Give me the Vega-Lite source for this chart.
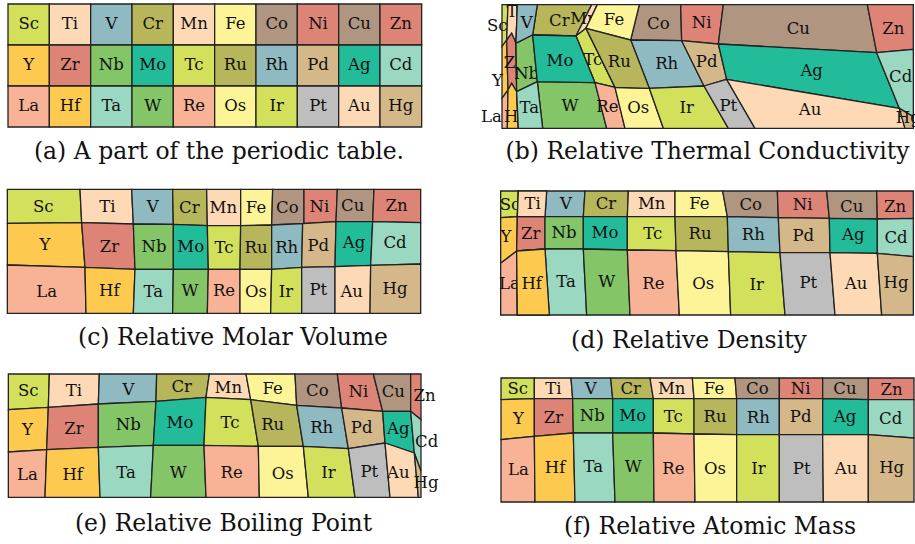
{
"$schema": "https://vega.github.io/schema/vega-lite/v6.json",
"background": "white",
"padding": 0,
"config": {"view": {"stroke": null}},
"bounds": "flush",
"align": "each",
"columns": 2,
"spacing": {"row": 50, "column": 40},
"datasets": {
"a": [
{"el":"Sc","lx":86,"ly":73.5,"g":{"type":"Polygon","coordinates":[[[24,12],[148,12],[148,135],[24,135],[24,12]]]}},
{"el":"Ti","lx":210,"ly":73.5,"g":{"type":"Polygon","coordinates":[[[148,12],[272,12],[272,135],[148,135],[148,12]]]}},
{"el":"V","lx":334,"ly":73.5,"g":{"type":"Polygon","coordinates":[[[272,12],[396,12],[396,135],[272,135],[272,12]]]}},
{"el":"Cr","lx":458,"ly":73.5,"g":{"type":"Polygon","coordinates":[[[396,12],[520,12],[520,135],[396,135],[396,12]]]}},
{"el":"Mn","lx":582,"ly":73.5,"g":{"type":"Polygon","coordinates":[[[520,12],[644,12],[644,135],[520,135],[520,12]]]}},
{"el":"Fe","lx":706,"ly":73.5,"g":{"type":"Polygon","coordinates":[[[644,12],[768,12],[768,135],[644,135],[644,12]]]}},
{"el":"Co","lx":830,"ly":73.5,"g":{"type":"Polygon","coordinates":[[[768,12],[892,12],[892,135],[768,135],[768,12]]]}},
{"el":"Ni","lx":954,"ly":73.5,"g":{"type":"Polygon","coordinates":[[[892,12],[1016,12],[1016,135],[892,135],[892,12]]]}},
{"el":"Cu","lx":1078,"ly":73.5,"g":{"type":"Polygon","coordinates":[[[1016,12],[1140,12],[1140,135],[1016,135],[1016,12]]]}},
{"el":"Zn","lx":1202.5,"ly":73.5,"g":{"type":"Polygon","coordinates":[[[1140,12],[1265,12],[1265,135],[1140,135],[1140,12]]]}},
{"el":"Y","lx":86,"ly":196.5,"g":{"type":"Polygon","coordinates":[[[24,135],[148,135],[148,258],[24,258],[24,135]]]}},
{"el":"Zr","lx":210,"ly":196.5,"g":{"type":"Polygon","coordinates":[[[148,135],[272,135],[272,258],[148,258],[148,135]]]}},
{"el":"Nb","lx":334,"ly":196.5,"g":{"type":"Polygon","coordinates":[[[272,135],[396,135],[396,258],[272,258],[272,135]]]}},
{"el":"Mo","lx":458,"ly":196.5,"g":{"type":"Polygon","coordinates":[[[396,135],[520,135],[520,258],[396,258],[396,135]]]}},
{"el":"Tc","lx":582,"ly":196.5,"g":{"type":"Polygon","coordinates":[[[520,135],[644,135],[644,258],[520,258],[520,135]]]}},
{"el":"Ru","lx":706,"ly":196.5,"g":{"type":"Polygon","coordinates":[[[644,135],[768,135],[768,258],[644,258],[644,135]]]}},
{"el":"Rh","lx":830,"ly":196.5,"g":{"type":"Polygon","coordinates":[[[768,135],[892,135],[892,258],[768,258],[768,135]]]}},
{"el":"Pd","lx":954,"ly":196.5,"g":{"type":"Polygon","coordinates":[[[892,135],[1016,135],[1016,258],[892,258],[892,135]]]}},
{"el":"Ag","lx":1078,"ly":196.5,"g":{"type":"Polygon","coordinates":[[[1016,135],[1140,135],[1140,258],[1016,258],[1016,135]]]}},
{"el":"Cd","lx":1202.5,"ly":196.5,"g":{"type":"Polygon","coordinates":[[[1140,135],[1265,135],[1265,258],[1140,258],[1140,135]]]}},
{"el":"La","lx":86,"ly":319.5,"g":{"type":"Polygon","coordinates":[[[24,258],[148,258],[148,381],[24,381],[24,258]]]}},
{"el":"Hf","lx":210,"ly":319.5,"g":{"type":"Polygon","coordinates":[[[148,258],[272,258],[272,381],[148,381],[148,258]]]}},
{"el":"Ta","lx":334,"ly":319.5,"g":{"type":"Polygon","coordinates":[[[272,258],[396,258],[396,381],[272,381],[272,258]]]}},
{"el":"W","lx":458,"ly":319.5,"g":{"type":"Polygon","coordinates":[[[396,258],[520,258],[520,381],[396,381],[396,258]]]}},
{"el":"Re","lx":582,"ly":319.5,"g":{"type":"Polygon","coordinates":[[[520,258],[644,258],[644,381],[520,381],[520,258]]]}},
{"el":"Os","lx":706,"ly":319.5,"g":{"type":"Polygon","coordinates":[[[644,258],[768,258],[768,381],[644,381],[644,258]]]}},
{"el":"Ir","lx":830,"ly":319.5,"g":{"type":"Polygon","coordinates":[[[768,258],[892,258],[892,381],[768,381],[768,258]]]}},
{"el":"Pt","lx":954,"ly":319.5,"g":{"type":"Polygon","coordinates":[[[892,258],[1016,258],[1016,381],[892,381],[892,258]]]}},
{"el":"Au","lx":1078,"ly":319.5,"g":{"type":"Polygon","coordinates":[[[1016,258],[1140,258],[1140,381],[1016,381],[1016,258]]]}},
{"el":"Hg","lx":1202.5,"ly":319.5,"g":{"type":"Polygon","coordinates":[[[1140,258],[1265,258],[1265,381],[1140,381],[1140,258]]]}}
],
"b": [
{"el":"Sc","lx":52,"ly":77,"g":{"type":"Polygon","coordinates":[[[66,14],[84,14],[80,120],[66,140],[66,14]]]}},
{"el":"Ti","lx":104,"ly":36,"g":{"type":"Polygon","coordinates":[[[84,14],[112,14],[108,130],[95,100],[80,120],[84,14]]]}},
{"el":"V","lx":140,"ly":68,"g":{"type":"Polygon","coordinates":[[[112,14],[172,14],[158,105],[108,130],[112,14]]]}},
{"el":"Cr","lx":238,"ly":62,"g":{"type":"Polygon","coordinates":[[[172,14],[335,14],[288,108],[158,105],[172,14]]]}},
{"el":"Mn","lx":312,"ly":58,"g":{"type":"Polygon","coordinates":[[[335,14],[352,14],[318,85],[288,108],[335,14]]]}},
{"el":"Fe","lx":402,"ly":60,"g":{"type":"Polygon","coordinates":[[[352,14],[478,14],[452,120],[318,85],[352,14]]]}},
{"el":"Co","lx":535,"ly":72,"g":{"type":"Polygon","coordinates":[[[478,14],[602,14],[605,122],[452,120],[478,14]]]}},
{"el":"Ni","lx":665,"ly":70,"g":{"type":"Polygon","coordinates":[[[602,14],[730,14],[715,132],[605,122],[602,14]]]}},
{"el":"Cu","lx":955,"ly":88,"g":{"type":"Polygon","coordinates":[[[730,14],[1162,14],[1190,158],[715,132],[730,14]]]}},
{"el":"Zn","lx":1240,"ly":88,"g":{"type":"Polygon","coordinates":[[[1162,14],[1300,14],[1300,148],[1190,158],[1162,14]]]}},
{"el":"Y","lx":52,"ly":242,"g":{"type":"Polygon","coordinates":[[[66,140],[80,120],[84,270],[66,295],[66,140]]]}},
{"el":"Zr","lx":100,"ly":190,"g":{"type":"Polygon","coordinates":[[[80,120],[95,100],[108,130],[110,275],[95,250],[84,270],[80,120]]]}},
{"el":"Nb","lx":140,"ly":222,"g":{"type":"Polygon","coordinates":[[[108,130],[158,105],[172,245],[110,275],[108,130]]]}},
{"el":"Mo","lx":240,"ly":182,"g":{"type":"Polygon","coordinates":[[[158,105],[288,108],[345,248],[172,245],[158,105]]]}},
{"el":"Tc","lx":338,"ly":180,"g":{"type":"Polygon","coordinates":[[[288,108],[318,85],[405,262],[345,248],[288,108]]]}},
{"el":"Ru","lx":418,"ly":185,"g":{"type":"Polygon","coordinates":[[[318,85],[452,120],[508,265],[405,262],[318,85]]]}},
{"el":"Rh","lx":560,"ly":192,"g":{"type":"Polygon","coordinates":[[[452,120],[605,122],[672,258],[508,265],[452,120]]]}},
{"el":"Pd","lx":680,"ly":185,"g":{"type":"Polygon","coordinates":[[[605,122],[715,132],[740,238],[672,258],[605,122]]]}},
{"el":"Ag","lx":995,"ly":212,"g":{"type":"Polygon","coordinates":[[[715,132],[1190,158],[1258,325],[740,238],[715,132]]]}},
{"el":"Cd","lx":1262,"ly":232,"g":{"type":"Polygon","coordinates":[[[1190,158],[1300,148],[1300,350],[1258,325],[1190,158]]]}},
{"el":"La","lx":34,"ly":352,"g":{"type":"Polygon","coordinates":[[[66,295],[84,270],[82,385],[66,385],[66,295]]]}},
{"el":"Hf","lx":103,"ly":352,"g":{"type":"Polygon","coordinates":[[[84,270],[95,250],[110,275],[115,385],[82,385],[84,270]]]}},
{"el":"Ta","lx":148,"ly":325,"g":{"type":"Polygon","coordinates":[[[110,275],[172,245],[188,385],[115,385],[110,275]]]}},
{"el":"W","lx":270,"ly":318,"g":{"type":"Polygon","coordinates":[[[172,245],[345,248],[380,385],[188,385],[172,245]]]}},
{"el":"Re","lx":382,"ly":320,"g":{"type":"Polygon","coordinates":[[[345,248],[405,262],[435,385],[380,385],[345,248]]]}},
{"el":"Os","lx":475,"ly":325,"g":{"type":"Polygon","coordinates":[[[405,262],[508,265],[550,385],[435,385],[405,262]]]}},
{"el":"Ir","lx":620,"ly":325,"g":{"type":"Polygon","coordinates":[[[508,265],[672,258],[745,385],[550,385],[508,265]]]}},
{"el":"Pt","lx":745,"ly":318,"g":{"type":"Polygon","coordinates":[[[672,258],[740,238],[825,385],[745,385],[672,258]]]}},
{"el":"Au","lx":990,"ly":330,"g":{"type":"Polygon","coordinates":[[[740,238],[1258,325],[1275,385],[825,385],[740,238]]]}},
{"el":"Hg","lx":1285,"ly":355,"g":{"type":"Polygon","coordinates":[[[1258,325],[1300,350],[1300,385],[1275,385],[1258,325]]]}}
],
"c": [
{"el":"Sc","lx":130,"ly":80,"g":{"type":"Polygon","coordinates":[[[22,28],[240,28],[245,128],[22,130],[22,28]]]}},
{"el":"Ti","lx":322,"ly":80,"g":{"type":"Polygon","coordinates":[[[240,28],[395,28],[400,132],[245,128],[240,28]]]}},
{"el":"V","lx":458,"ly":80,"g":{"type":"Polygon","coordinates":[[[395,28],[518,28],[520,133],[400,132],[395,28]]]}},
{"el":"Cr","lx":568,"ly":85,"g":{"type":"Polygon","coordinates":[[[518,28],[620,28],[622,137],[520,133],[518,28]]]}},
{"el":"Mn","lx":670,"ly":85,"g":{"type":"Polygon","coordinates":[[[620,28],[722,28],[722,137],[622,137],[620,28]]]}},
{"el":"Fe","lx":768,"ly":85,"g":{"type":"Polygon","coordinates":[[[722,28],[818,28],[815,135],[722,137],[722,28]]]}},
{"el":"Co","lx":862,"ly":85,"g":{"type":"Polygon","coordinates":[[[818,28],[912,28],[912,130],[815,135],[818,28]]]}},
{"el":"Ni","lx":958,"ly":80,"g":{"type":"Polygon","coordinates":[[[912,28],[1012,28],[1008,125],[912,130],[912,28]]]}},
{"el":"Cu","lx":1058,"ly":78,"g":{"type":"Polygon","coordinates":[[[1012,28],[1122,28],[1118,125],[1008,125],[1012,28]]]}},
{"el":"Zn","lx":1190,"ly":78,"g":{"type":"Polygon","coordinates":[[[1122,28],[1262,28],[1262,128],[1118,125],[1122,28]]]}},
{"el":"Y","lx":135,"ly":195,"g":{"type":"Polygon","coordinates":[[[22,130],[245,128],[255,262],[22,255],[22,130]]]}},
{"el":"Zr","lx":328,"ly":200,"g":{"type":"Polygon","coordinates":[[[245,128],[400,132],[405,268],[255,262],[245,128]]]}},
{"el":"Nb","lx":462,"ly":200,"g":{"type":"Polygon","coordinates":[[[400,132],[520,133],[520,268],[405,268],[400,132]]]}},
{"el":"Mo","lx":572,"ly":200,"g":{"type":"Polygon","coordinates":[[[520,133],[622,137],[625,268],[520,268],[520,133]]]}},
{"el":"Tc","lx":672,"ly":205,"g":{"type":"Polygon","coordinates":[[[622,137],[722,137],[720,268],[625,268],[622,137]]]}},
{"el":"Ru","lx":768,"ly":205,"g":{"type":"Polygon","coordinates":[[[722,137],[815,135],[815,268],[720,268],[722,137]]]}},
{"el":"Rh","lx":860,"ly":203,"g":{"type":"Polygon","coordinates":[[[815,135],[908,131],[905,262],[815,268],[815,135]]]}},
{"el":"Pd","lx":955,"ly":198,"g":{"type":"Polygon","coordinates":[[[908,131],[1008,125],[1005,260],[905,262],[908,131]]]}},
{"el":"Ag","lx":1062,"ly":190,"g":{"type":"Polygon","coordinates":[[[1008,125],[1118,125],[1112,256],[1005,260],[1008,125]]]}},
{"el":"Cd","lx":1185,"ly":190,"g":{"type":"Polygon","coordinates":[[[1118,125],[1262,128],[1262,252],[1112,256],[1118,125]]]}},
{"el":"La","lx":140,"ly":335,"g":{"type":"Polygon","coordinates":[[[22,255],[255,262],[258,400],[22,400],[22,255]]]}},
{"el":"Hf","lx":328,"ly":332,"g":{"type":"Polygon","coordinates":[[[255,262],[405,268],[400,400],[258,400],[255,262]]]}},
{"el":"Ta","lx":460,"ly":335,"g":{"type":"Polygon","coordinates":[[[405,268],[520,268],[518,400],[400,400],[405,268]]]}},
{"el":"W","lx":570,"ly":332,"g":{"type":"Polygon","coordinates":[[[520,268],[625,268],[622,400],[518,400],[520,268]]]}},
{"el":"Re","lx":672,"ly":332,"g":{"type":"Polygon","coordinates":[[[625,268],[720,268],[720,400],[622,400],[625,268]]]}},
{"el":"Os","lx":768,"ly":335,"g":{"type":"Polygon","coordinates":[[[720,268],[815,268],[812,400],[720,400],[720,268]]]}},
{"el":"Ir","lx":858,"ly":335,"g":{"type":"Polygon","coordinates":[[[815,268],[905,262],[905,400],[812,400],[815,268]]]}},
{"el":"Pt","lx":955,"ly":330,"g":{"type":"Polygon","coordinates":[[[905,262],[1005,260],[1005,400],[905,400],[905,262]]]}},
{"el":"Au","lx":1055,"ly":335,"g":{"type":"Polygon","coordinates":[[[1005,260],[1112,256],[1110,400],[1005,400],[1005,260]]]}},
{"el":"Hg","lx":1185,"ly":328,"g":{"type":"Polygon","coordinates":[[[1112,256],[1262,252],[1262,400],[1110,400],[1112,256]]]}}
],
"d": [
{"el":"Sc","lx":90,"ly":75,"g":{"type":"Polygon","coordinates":[[[62,33],[115,33],[112,110],[62,113],[62,33]]]}},
{"el":"Ti","lx":158,"ly":73,"g":{"type":"Polygon","coordinates":[[[115,33],[200,33],[195,110],[112,110],[115,33]]]}},
{"el":"V","lx":258,"ly":73,"g":{"type":"Polygon","coordinates":[[[200,33],[315,33],[310,110],[195,110],[200,33]]]}},
{"el":"Cr","lx":378,"ly":73,"g":{"type":"Polygon","coordinates":[[[315,33],[445,33],[442,110],[310,110],[315,33]]]}},
{"el":"Mn","lx":515,"ly":73,"g":{"type":"Polygon","coordinates":[[[445,33],[585,33],[585,110],[442,110],[445,33]]]}},
{"el":"Fe","lx":658,"ly":73,"g":{"type":"Polygon","coordinates":[[[585,33],[728,33],[742,110],[585,110],[585,33]]]}},
{"el":"Co","lx":812,"ly":75,"g":{"type":"Polygon","coordinates":[[[728,33],[892,33],[895,113],[742,110],[728,33]]]}},
{"el":"Ni","lx":968,"ly":75,"g":{"type":"Polygon","coordinates":[[[892,33],[1040,33],[1048,115],[895,113],[892,33]]]}},
{"el":"Cu","lx":1115,"ly":80,"g":{"type":"Polygon","coordinates":[[[1040,33],[1190,33],[1192,117],[1048,115],[1040,33]]]}},
{"el":"Zn","lx":1245,"ly":80,"g":{"type":"Polygon","coordinates":[[[1190,33],[1300,33],[1300,115],[1192,117],[1190,33]]]}},
{"el":"Y","lx":78,"ly":170,"g":{"type":"Polygon","coordinates":[[[62,113],[112,110],[110,213],[62,250],[62,113]]]}},
{"el":"Zr","lx":152,"ly":163,"g":{"type":"Polygon","coordinates":[[[112,110],[195,110],[195,207],[110,213],[112,110]]]}},
{"el":"Nb","lx":252,"ly":160,"g":{"type":"Polygon","coordinates":[[[195,110],[310,110],[310,207],[195,207],[195,110]]]}},
{"el":"Mo","lx":375,"ly":160,"g":{"type":"Polygon","coordinates":[[[310,110],[442,110],[442,210],[310,207],[310,110]]]}},
{"el":"Tc","lx":518,"ly":163,"g":{"type":"Polygon","coordinates":[[[442,110],[585,110],[588,212],[442,210],[442,110]]]}},
{"el":"Ru","lx":660,"ly":163,"g":{"type":"Polygon","coordinates":[[[585,110],[742,110],[745,215],[588,212],[585,110]]]}},
{"el":"Rh","lx":820,"ly":165,"g":{"type":"Polygon","coordinates":[[[742,110],[895,113],[900,218],[745,215],[742,110]]]}},
{"el":"Pd","lx":970,"ly":167,"g":{"type":"Polygon","coordinates":[[[895,113],[1048,115],[1050,218],[900,218],[895,113]]]}},
{"el":"Ag","lx":1120,"ly":165,"g":{"type":"Polygon","coordinates":[[[1048,115],[1192,117],[1192,220],[1050,218],[1048,115]]]}},
{"el":"Cd","lx":1248,"ly":173,"g":{"type":"Polygon","coordinates":[[[1192,117],[1300,115],[1300,230],[1192,220],[1192,117]]]}},
{"el":"La","lx":88,"ly":313,"g":{"type":"Polygon","coordinates":[[[62,250],[110,213],[112,405],[62,405],[62,250]]]}},
{"el":"Hf","lx":155,"ly":311,"g":{"type":"Polygon","coordinates":[[[110,213],[195,207],[208,405],[112,405],[110,213]]]}},
{"el":"Ta","lx":258,"ly":307,"g":{"type":"Polygon","coordinates":[[[195,207],[310,207],[320,405],[208,405],[195,207]]]}},
{"el":"W","lx":380,"ly":307,"g":{"type":"Polygon","coordinates":[[[310,207],[442,210],[450,405],[320,405],[310,207]]]}},
{"el":"Re","lx":520,"ly":313,"g":{"type":"Polygon","coordinates":[[[442,210],[588,212],[598,405],[450,405],[442,210]]]}},
{"el":"Os","lx":670,"ly":313,"g":{"type":"Polygon","coordinates":[[[588,212],[745,215],[752,405],[598,405],[588,212]]]}},
{"el":"Ir","lx":830,"ly":315,"g":{"type":"Polygon","coordinates":[[[745,215],[900,218],[915,405],[752,405],[745,215]]]}},
{"el":"Pt","lx":985,"ly":310,"g":{"type":"Polygon","coordinates":[[[900,218],[1050,218],[1065,405],[915,405],[900,218]]]}},
{"el":"Au","lx":1128,"ly":313,"g":{"type":"Polygon","coordinates":[[[1050,218],[1192,220],[1205,405],[1065,405],[1050,218]]]}},
{"el":"Hg","lx":1248,"ly":310,"g":{"type":"Polygon","coordinates":[[[1192,220],[1300,230],[1300,405],[1205,405],[1192,220]]]}}
],
"e": [
{"el":"Sc","lx":85,"ly":70,"g":{"type":"Polygon","coordinates":[[[25,18],[148,18],[145,118],[25,125],[25,18]]]}},
{"el":"Ti","lx":222,"ly":68,"g":{"type":"Polygon","coordinates":[[[148,18],[298,18],[295,108],[145,118],[148,18]]]}},
{"el":"V","lx":385,"ly":65,"g":{"type":"Polygon","coordinates":[[[298,18],[470,18],[468,100],[295,108],[298,18]]]}},
{"el":"Cr","lx":545,"ly":58,"g":{"type":"Polygon","coordinates":[[[470,18],[628,18],[618,88],[468,100],[470,18]]]}},
{"el":"Mn","lx":685,"ly":60,"g":{"type":"Polygon","coordinates":[[[628,18],[738,18],[752,95],[618,88],[628,18]]]}},
{"el":"Fe","lx":818,"ly":62,"g":{"type":"Polygon","coordinates":[[[738,18],[885,18],[890,112],[752,95],[738,18]]]}},
{"el":"Co","lx":952,"ly":70,"g":{"type":"Polygon","coordinates":[[[885,18],[1012,18],[1025,120],[890,112],[885,18]]]}},
{"el":"Ni","lx":1075,"ly":72,"g":{"type":"Polygon","coordinates":[[[1012,18],[1120,18],[1148,130],[1025,120],[1012,18]]]}},
{"el":"Cu","lx":1180,"ly":72,"g":{"type":"Polygon","coordinates":[[[1120,18],[1232,18],[1232,130],[1148,130],[1120,18]]]}},
{"el":"Zn","lx":1274,"ly":85,"g":{"type":"Polygon","coordinates":[[[1232,18],[1263,18],[1263,155],[1232,130],[1232,18]]]}},
{"el":"Y","lx":82,"ly":185,"g":{"type":"Polygon","coordinates":[[[25,125],[145,118],[140,245],[25,252],[25,125]]]}},
{"el":"Zr","lx":222,"ly":182,"g":{"type":"Polygon","coordinates":[[[145,118],[295,108],[295,238],[140,245],[145,118]]]}},
{"el":"Nb","lx":385,"ly":172,"g":{"type":"Polygon","coordinates":[[[295,108],[468,100],[460,232],[295,238],[295,108]]]}},
{"el":"Mo","lx":540,"ly":165,"g":{"type":"Polygon","coordinates":[[[468,100],[618,88],[612,232],[460,232],[468,100]]]}},
{"el":"Tc","lx":690,"ly":165,"g":{"type":"Polygon","coordinates":[[[618,88],[752,95],[775,235],[612,232],[618,88]]]}},
{"el":"Ru","lx":818,"ly":172,"g":{"type":"Polygon","coordinates":[[[752,95],[890,112],[910,235],[775,235],[752,95]]]}},
{"el":"Rh","lx":965,"ly":180,"g":{"type":"Polygon","coordinates":[[[890,112],[1025,120],[1045,242],[910,235],[890,112]]]}},
{"el":"Pd","lx":1085,"ly":180,"g":{"type":"Polygon","coordinates":[[[1025,120],[1148,130],[1155,225],[1045,242],[1025,120]]]}},
{"el":"Ag","lx":1195,"ly":183,"g":{"type":"Polygon","coordinates":[[[1148,130],[1232,130],[1243,255],[1155,225],[1148,130]]]}},
{"el":"Cd","lx":1280,"ly":222,"g":{"type":"Polygon","coordinates":[[[1232,130],[1263,155],[1263,310],[1243,255],[1232,130]]]}},
{"el":"La","lx":82,"ly":322,"g":{"type":"Polygon","coordinates":[[[25,252],[140,245],[135,388],[25,388],[25,252]]]}},
{"el":"Hf","lx":218,"ly":320,"g":{"type":"Polygon","coordinates":[[[140,245],[295,238],[300,388],[135,388],[140,245]]]}},
{"el":"Ta","lx":378,"ly":315,"g":{"type":"Polygon","coordinates":[[[295,238],[460,232],[452,388],[300,388],[295,238]]]}},
{"el":"W","lx":535,"ly":315,"g":{"type":"Polygon","coordinates":[[[460,232],[612,232],[618,388],[452,388],[460,232]]]}},
{"el":"Re","lx":695,"ly":315,"g":{"type":"Polygon","coordinates":[[[612,232],[775,235],[778,388],[618,388],[612,232]]]}},
{"el":"Os","lx":848,"ly":318,"g":{"type":"Polygon","coordinates":[[[775,235],[910,235],[925,388],[778,388],[775,235]]]}},
{"el":"Ir","lx":985,"ly":315,"g":{"type":"Polygon","coordinates":[[[910,235],[1045,242],[1065,388],[925,388],[910,235]]]}},
{"el":"Pt","lx":1108,"ly":312,"g":{"type":"Polygon","coordinates":[[[1045,242],[1155,225],[1170,388],[1065,388],[1045,242]]]}},
{"el":"Au","lx":1195,"ly":315,"g":{"type":"Polygon","coordinates":[[[1155,225],[1243,255],[1255,388],[1170,388],[1155,225]]]}},
{"el":"Hg","lx":1278,"ly":345,"g":{"type":"Polygon","coordinates":[[[1243,255],[1263,310],[1263,388],[1255,388],[1243,255]]]}}
],
"f": [
{"el":"Sc","lx":113,"ly":63,"g":{"type":"Polygon","coordinates":[[[63,30],[163,30],[163,92],[63,95],[63,30]]]}},
{"el":"Ti","lx":220,"ly":63,"g":{"type":"Polygon","coordinates":[[[163,30],[273,30],[278,92],[163,92],[163,30]]]}},
{"el":"V","lx":332,"ly":63,"g":{"type":"Polygon","coordinates":[[[273,30],[392,30],[398,92],[278,92],[273,30]]]}},
{"el":"Cr","lx":452,"ly":63,"g":{"type":"Polygon","coordinates":[[[392,30],[510,30],[520,92],[398,92],[392,30]]]}},
{"el":"Mn","lx":575,"ly":63,"g":{"type":"Polygon","coordinates":[[[510,30],[637,30],[642,92],[520,92],[510,30]]]}},
{"el":"Fe","lx":702,"ly":63,"g":{"type":"Polygon","coordinates":[[[637,30],[765,30],[770,92],[642,92],[637,30]]]}},
{"el":"Co","lx":832,"ly":63,"g":{"type":"Polygon","coordinates":[[[765,30],[898,30],[898,92],[770,92],[765,30]]]}},
{"el":"Ni","lx":962,"ly":63,"g":{"type":"Polygon","coordinates":[[[898,30],[1028,30],[1028,92],[898,92],[898,30]]]}},
{"el":"Cu","lx":1095,"ly":63,"g":{"type":"Polygon","coordinates":[[[1028,30],[1165,30],[1165,95],[1028,92],[1028,30]]]}},
{"el":"Zn","lx":1235,"ly":65,"g":{"type":"Polygon","coordinates":[[[1165,30],[1302,30],[1302,95],[1165,95],[1165,30]]]}},
{"el":"Y","lx":115,"ly":152,"g":{"type":"Polygon","coordinates":[[[63,95],[163,92],[163,205],[63,215],[63,95]]]}},
{"el":"Zr","lx":220,"ly":150,"g":{"type":"Polygon","coordinates":[[[163,92],[278,92],[280,195],[163,205],[163,92]]]}},
{"el":"Nb","lx":337,"ly":145,"g":{"type":"Polygon","coordinates":[[[278,92],[398,92],[398,195],[280,195],[278,92]]]}},
{"el":"Mo","lx":458,"ly":145,"g":{"type":"Polygon","coordinates":[[[398,92],[520,92],[520,195],[398,195],[398,92]]]}},
{"el":"Tc","lx":580,"ly":147,"g":{"type":"Polygon","coordinates":[[[520,92],[642,92],[642,198],[520,195],[520,92]]]}},
{"el":"Ru","lx":705,"ly":148,"g":{"type":"Polygon","coordinates":[[[642,92],[770,92],[770,200],[642,198],[642,92]]]}},
{"el":"Rh","lx":835,"ly":150,"g":{"type":"Polygon","coordinates":[[[770,92],[898,92],[898,200],[770,200],[770,92]]]}},
{"el":"Pd","lx":962,"ly":147,"g":{"type":"Polygon","coordinates":[[[898,92],[1028,92],[1028,200],[898,200],[898,92]]]}},
{"el":"Ag","lx":1095,"ly":147,"g":{"type":"Polygon","coordinates":[[[1028,92],[1165,95],[1165,200],[1028,200],[1028,92]]]}},
{"el":"Cd","lx":1232,"ly":152,"g":{"type":"Polygon","coordinates":[[[1165,95],[1302,95],[1302,210],[1165,200],[1165,95]]]}},
{"el":"La","lx":115,"ly":305,"g":{"type":"Polygon","coordinates":[[[63,215],[163,205],[165,402],[63,402],[63,215]]]}},
{"el":"Hf","lx":225,"ly":300,"g":{"type":"Polygon","coordinates":[[[163,205],[280,195],[285,402],[165,402],[163,205]]]}},
{"el":"Ta","lx":340,"ly":298,"g":{"type":"Polygon","coordinates":[[[280,195],[398,195],[405,402],[285,402],[280,195]]]}},
{"el":"W","lx":460,"ly":298,"g":{"type":"Polygon","coordinates":[[[398,195],[520,195],[522,402],[405,402],[398,195]]]}},
{"el":"Re","lx":580,"ly":302,"g":{"type":"Polygon","coordinates":[[[520,195],[642,198],[645,402],[522,402],[520,195]]]}},
{"el":"Os","lx":705,"ly":302,"g":{"type":"Polygon","coordinates":[[[642,198],[770,200],[770,402],[645,402],[642,198]]]}},
{"el":"Ir","lx":835,"ly":302,"g":{"type":"Polygon","coordinates":[[[770,200],[898,200],[898,402],[770,402],[770,200]]]}},
{"el":"Pt","lx":965,"ly":302,"g":{"type":"Polygon","coordinates":[[[898,200],[1028,200],[1030,402],[898,402],[898,200]]]}},
{"el":"Au","lx":1098,"ly":302,"g":{"type":"Polygon","coordinates":[[[1028,200],[1165,200],[1165,402],[1030,402],[1028,200]]]}},
{"el":"Hg","lx":1235,"ly":300,"g":{"type":"Polygon","coordinates":[[[1165,200],[1302,210],[1302,402],[1165,402],[1165,200]]]}}
]
},
"concat": [
{"width": 440, "height": 130, "data": {"name": "a"},
 "projection": {"type": "identity", "scale": 0.333333, "translate": [0, 0]},
 "title": {"text": "(a) A part of the periodic table.", "orient": "bottom", "frame": "group", "anchor": "middle", "baseline": "alphabetic", "offset": 29, "dx": -1, "font": "DejaVu Serif", "fontSize": 23.5, "fontWeight": "normal", "color": "#111"},
 "layer": [
  {"mark": {"type": "geoshape", "stroke": "#222", "strokeWidth": 1.3},
   "encoding": {"shape": {"field": "g", "type": "geojson"},
    "color": {"field": "el", "type": "nominal", "legend": null, "scale": {"domain": ["Sc","Ti","V","Cr","Mn","Fe","Co","Ni","Cu","Zn","Y","Zr","Nb","Mo","Tc","Ru","Rh","Pd","Ag","Cd","La","Hf","Ta","W","Re","Os","Ir","Pt","Au","Hg"], "range": ["#d3e05c","#fddab5","#8fbac1","#b8b65a","#fddab5","#fdf497","#b09580","#de8477","#b09580","#de8477","#fdca4f","#de8477","#83c567","#22bc9b","#d3e05c","#b8b65a","#8fbac1","#d5b88a","#22bc9b","#9ad8c2","#f8b397","#fdca4f","#9ad8c2","#83c567","#f8b397","#fdf497","#d3e05c","#bebebe","#fddab5","#d5b88a"]}}}},
  {"mark": {"type": "text", "font": "DejaVu Serif", "fontSize": 16.5, "color": "#111", "baseline": "middle", "align": "center"},
   "encoding": {"longitude": {"field": "lx", "type": "quantitative"}, "latitude": {"field": "ly", "type": "quantitative"}, "text": {"field": "el", "type": "nominal"}}}
 ]},
{"width": 435, "height": 130, "data": {"name": "b"},
 "projection": {"type": "identity", "scale": 0.333333, "translate": [0, 0]},
 "title": {"text": "(b) Relative Thermal Conductivity", "orient": "bottom", "frame": "group", "anchor": "middle", "baseline": "alphabetic", "offset": 29, "dx": 10, "font": "DejaVu Serif", "fontSize": 23.5, "fontWeight": "normal", "color": "#111"},
 "layer": [
  {"mark": {"type": "geoshape", "stroke": "#222", "strokeWidth": 1.3},
   "encoding": {"shape": {"field": "g", "type": "geojson"},
    "color": {"field": "el", "type": "nominal", "legend": null, "scale": {"domain": ["Sc","Ti","V","Cr","Mn","Fe","Co","Ni","Cu","Zn","Y","Zr","Nb","Mo","Tc","Ru","Rh","Pd","Ag","Cd","La","Hf","Ta","W","Re","Os","Ir","Pt","Au","Hg"], "range": ["#d3e05c","#fddab5","#8fbac1","#b8b65a","#fddab5","#fdf497","#b09580","#de8477","#b09580","#de8477","#fdca4f","#de8477","#83c567","#22bc9b","#d3e05c","#b8b65a","#8fbac1","#d5b88a","#22bc9b","#9ad8c2","#f8b397","#fdca4f","#9ad8c2","#83c567","#f8b397","#fdf497","#d3e05c","#bebebe","#fddab5","#d5b88a"]}}}},
  {"mark": {"type": "text", "font": "DejaVu Serif", "fontSize": 16.5, "color": "#111", "baseline": "middle", "align": "center"},
   "encoding": {"longitude": {"field": "lx", "type": "quantitative"}, "latitude": {"field": "ly", "type": "quantitative"}, "text": {"field": "el", "type": "nominal"}}},
  {"transform": [{"filter": {"field": "el", "oneOf": ["V","Fe","Nb","Ru","Ta"]}}],
   "mark": {"type": "geoshape", "stroke": "#222", "strokeWidth": 1.3},
   "encoding": {"shape": {"field": "g", "type": "geojson"},
    "color": {"field": "el", "type": "nominal", "legend": null, "scale": {"domain": ["Sc","Ti","V","Cr","Mn","Fe","Co","Ni","Cu","Zn","Y","Zr","Nb","Mo","Tc","Ru","Rh","Pd","Ag","Cd","La","Hf","Ta","W","Re","Os","Ir","Pt","Au","Hg"], "range": ["#d3e05c","#fddab5","#8fbac1","#b8b65a","#fddab5","#fdf497","#b09580","#de8477","#b09580","#de8477","#fdca4f","#de8477","#83c567","#22bc9b","#d3e05c","#b8b65a","#8fbac1","#d5b88a","#22bc9b","#9ad8c2","#f8b397","#fdca4f","#9ad8c2","#83c567","#f8b397","#fdf497","#d3e05c","#bebebe","#fddab5","#d5b88a"]}}}},
  {"transform": [{"filter": {"field": "el", "oneOf": ["V","Fe","Nb","Ru","Ta"]}}],
   "mark": {"type": "text", "font": "DejaVu Serif", "fontSize": 16.5, "color": "#111", "baseline": "middle", "align": "center"},
   "encoding": {"longitude": {"field": "lx", "type": "quantitative"}, "latitude": {"field": "ly", "type": "quantitative"}, "text": {"field": "el", "type": "nominal"}}},
  {"transform": [{"filter": {"field": "el", "equal": "Mo"}}],
   "mark": {"type": "geoshape", "stroke": "#222", "strokeWidth": 1.3},
   "encoding": {"shape": {"field": "g", "type": "geojson"},
    "color": {"field": "el", "type": "nominal", "legend": null, "scale": {"domain": ["Sc","Ti","V","Cr","Mn","Fe","Co","Ni","Cu","Zn","Y","Zr","Nb","Mo","Tc","Ru","Rh","Pd","Ag","Cd","La","Hf","Ta","W","Re","Os","Ir","Pt","Au","Hg"], "range": ["#d3e05c","#fddab5","#8fbac1","#b8b65a","#fddab5","#fdf497","#b09580","#de8477","#b09580","#de8477","#fdca4f","#de8477","#83c567","#22bc9b","#d3e05c","#b8b65a","#8fbac1","#d5b88a","#22bc9b","#9ad8c2","#f8b397","#fdca4f","#9ad8c2","#83c567","#f8b397","#fdf497","#d3e05c","#bebebe","#fddab5","#d5b88a"]}}}},
  {"transform": [{"filter": {"field": "el", "equal": "Mo"}}],
   "mark": {"type": "text", "font": "DejaVu Serif", "fontSize": 16.5, "color": "#111", "baseline": "middle", "align": "center"},
   "encoding": {"longitude": {"field": "lx", "type": "quantitative"}, "latitude": {"field": "ly", "type": "quantitative"}, "text": {"field": "el", "type": "nominal"}}}
 ]},
{"width": 440, "height": 138, "data": {"name": "c"},
 "projection": {"type": "identity", "scale": 0.333333, "translate": [0, 0]},
 "title": {"text": "(c) Relative Molar Volume", "orient": "bottom", "frame": "group", "anchor": "middle", "baseline": "alphabetic", "offset": 27, "dx": 13, "font": "DejaVu Serif", "fontSize": 23.5, "fontWeight": "normal", "color": "#111"},
 "layer": [
  {"mark": {"type": "geoshape", "stroke": "#222", "strokeWidth": 1.3},
   "encoding": {"shape": {"field": "g", "type": "geojson"},
    "color": {"field": "el", "type": "nominal", "legend": null, "scale": {"domain": ["Sc","Ti","V","Cr","Mn","Fe","Co","Ni","Cu","Zn","Y","Zr","Nb","Mo","Tc","Ru","Rh","Pd","Ag","Cd","La","Hf","Ta","W","Re","Os","Ir","Pt","Au","Hg"], "range": ["#d3e05c","#fddab5","#8fbac1","#b8b65a","#fddab5","#fdf497","#b09580","#de8477","#b09580","#de8477","#fdca4f","#de8477","#83c567","#22bc9b","#d3e05c","#b8b65a","#8fbac1","#d5b88a","#22bc9b","#9ad8c2","#f8b397","#fdca4f","#9ad8c2","#83c567","#f8b397","#fdf497","#d3e05c","#bebebe","#fddab5","#d5b88a"]}}}},
  {"mark": {"type": "text", "font": "DejaVu Serif", "fontSize": 16.5, "color": "#111", "baseline": "middle", "align": "center"},
   "encoding": {"longitude": {"field": "lx", "type": "quantitative"}, "latitude": {"field": "ly", "type": "quantitative"}, "text": {"field": "el", "type": "nominal"}}}
 ]},
{"width": 435, "height": 138, "data": {"name": "d"},
 "projection": {"type": "identity", "scale": 0.333333, "translate": [0, 0]},
 "title": {"text": "(d) Relative Density", "orient": "bottom", "frame": "group", "anchor": "middle", "baseline": "alphabetic", "offset": 30, "dx": -8.5, "font": "DejaVu Serif", "fontSize": 23.5, "fontWeight": "normal", "color": "#111"},
 "layer": [
  {"mark": {"type": "geoshape", "stroke": "#222", "strokeWidth": 1.3},
   "encoding": {"shape": {"field": "g", "type": "geojson"},
    "color": {"field": "el", "type": "nominal", "legend": null, "scale": {"domain": ["Sc","Ti","V","Cr","Mn","Fe","Co","Ni","Cu","Zn","Y","Zr","Nb","Mo","Tc","Ru","Rh","Pd","Ag","Cd","La","Hf","Ta","W","Re","Os","Ir","Pt","Au","Hg"], "range": ["#d3e05c","#fddab5","#8fbac1","#b8b65a","#fddab5","#fdf497","#b09580","#de8477","#b09580","#de8477","#fdca4f","#de8477","#83c567","#22bc9b","#d3e05c","#b8b65a","#8fbac1","#d5b88a","#22bc9b","#9ad8c2","#f8b397","#fdca4f","#9ad8c2","#83c567","#f8b397","#fdf497","#d3e05c","#bebebe","#fddab5","#d5b88a"]}}}},
  {"mark": {"type": "text", "font": "DejaVu Serif", "fontSize": 16.5, "color": "#111", "baseline": "middle", "align": "center"},
   "encoding": {"longitude": {"field": "lx", "type": "quantitative"}, "latitude": {"field": "ly", "type": "quantitative"}, "text": {"field": "el", "type": "nominal"}}},
  {"transform": [{"filter": {"field": "el", "oneOf": ["Ti","Hf"]}}],
   "mark": {"type": "geoshape", "stroke": "#222", "strokeWidth": 1.3},
   "encoding": {"shape": {"field": "g", "type": "geojson"},
    "color": {"field": "el", "type": "nominal", "legend": null, "scale": {"domain": ["Sc","Ti","V","Cr","Mn","Fe","Co","Ni","Cu","Zn","Y","Zr","Nb","Mo","Tc","Ru","Rh","Pd","Ag","Cd","La","Hf","Ta","W","Re","Os","Ir","Pt","Au","Hg"], "range": ["#d3e05c","#fddab5","#8fbac1","#b8b65a","#fddab5","#fdf497","#b09580","#de8477","#b09580","#de8477","#fdca4f","#de8477","#83c567","#22bc9b","#d3e05c","#b8b65a","#8fbac1","#d5b88a","#22bc9b","#9ad8c2","#f8b397","#fdca4f","#9ad8c2","#83c567","#f8b397","#fdf497","#d3e05c","#bebebe","#fddab5","#d5b88a"]}}}},
  {"transform": [{"filter": {"field": "el", "oneOf": ["Ti","Hf"]}}],
   "mark": {"type": "text", "font": "DejaVu Serif", "fontSize": 16.5, "color": "#111", "baseline": "middle", "align": "center"},
   "encoding": {"longitude": {"field": "lx", "type": "quantitative"}, "latitude": {"field": "ly", "type": "quantitative"}, "text": {"field": "el", "type": "nominal"}}}
 ]},
{"width": 440, "height": 136, "data": {"name": "e"},
 "projection": {"type": "identity", "scale": 0.333333, "translate": [0, 0]},
 "title": {"text": "(e) Relative Boiling Point", "orient": "bottom", "frame": "group", "anchor": "middle", "baseline": "alphabetic", "offset": 27, "dx": 3.5, "font": "DejaVu Serif", "fontSize": 23.5, "fontWeight": "normal", "color": "#111"},
 "layer": [
  {"mark": {"type": "geoshape", "stroke": "#222", "strokeWidth": 1.3},
   "encoding": {"shape": {"field": "g", "type": "geojson"},
    "color": {"field": "el", "type": "nominal", "legend": null, "scale": {"domain": ["Sc","Ti","V","Cr","Mn","Fe","Co","Ni","Cu","Zn","Y","Zr","Nb","Mo","Tc","Ru","Rh","Pd","Ag","Cd","La","Hf","Ta","W","Re","Os","Ir","Pt","Au","Hg"], "range": ["#d3e05c","#fddab5","#8fbac1","#b8b65a","#fddab5","#fdf497","#b09580","#de8477","#b09580","#de8477","#fdca4f","#de8477","#83c567","#22bc9b","#d3e05c","#b8b65a","#8fbac1","#d5b88a","#22bc9b","#9ad8c2","#f8b397","#fdca4f","#9ad8c2","#83c567","#f8b397","#fdf497","#d3e05c","#bebebe","#fddab5","#d5b88a"]}}}},
  {"mark": {"type": "text", "font": "DejaVu Serif", "fontSize": 16.5, "color": "#111", "baseline": "middle", "align": "center"},
   "encoding": {"longitude": {"field": "lx", "type": "quantitative"}, "latitude": {"field": "ly", "type": "quantitative"}, "text": {"field": "el", "type": "nominal"}}}
 ]},
{"width": 435, "height": 136, "data": {"name": "f"},
 "projection": {"type": "identity", "scale": 0.333333, "translate": [0, 0]},
 "title": {"text": "(f) Relative Atomic Mass", "orient": "bottom", "frame": "group", "anchor": "middle", "baseline": "alphabetic", "offset": 30, "dx": 12.5, "font": "DejaVu Serif", "fontSize": 23.5, "fontWeight": "normal", "color": "#111"},
 "layer": [
  {"mark": {"type": "geoshape", "stroke": "#222", "strokeWidth": 1.3},
   "encoding": {"shape": {"field": "g", "type": "geojson"},
    "color": {"field": "el", "type": "nominal", "legend": null, "scale": {"domain": ["Sc","Ti","V","Cr","Mn","Fe","Co","Ni","Cu","Zn","Y","Zr","Nb","Mo","Tc","Ru","Rh","Pd","Ag","Cd","La","Hf","Ta","W","Re","Os","Ir","Pt","Au","Hg"], "range": ["#d3e05c","#fddab5","#8fbac1","#b8b65a","#fddab5","#fdf497","#b09580","#de8477","#b09580","#de8477","#fdca4f","#de8477","#83c567","#22bc9b","#d3e05c","#b8b65a","#8fbac1","#d5b88a","#22bc9b","#9ad8c2","#f8b397","#fdca4f","#9ad8c2","#83c567","#f8b397","#fdf497","#d3e05c","#bebebe","#fddab5","#d5b88a"]}}}},
  {"mark": {"type": "text", "font": "DejaVu Serif", "fontSize": 16.5, "color": "#111", "baseline": "middle", "align": "center"},
   "encoding": {"longitude": {"field": "lx", "type": "quantitative"}, "latitude": {"field": "ly", "type": "quantitative"}, "text": {"field": "el", "type": "nominal"}}}
 ]}
]
}
